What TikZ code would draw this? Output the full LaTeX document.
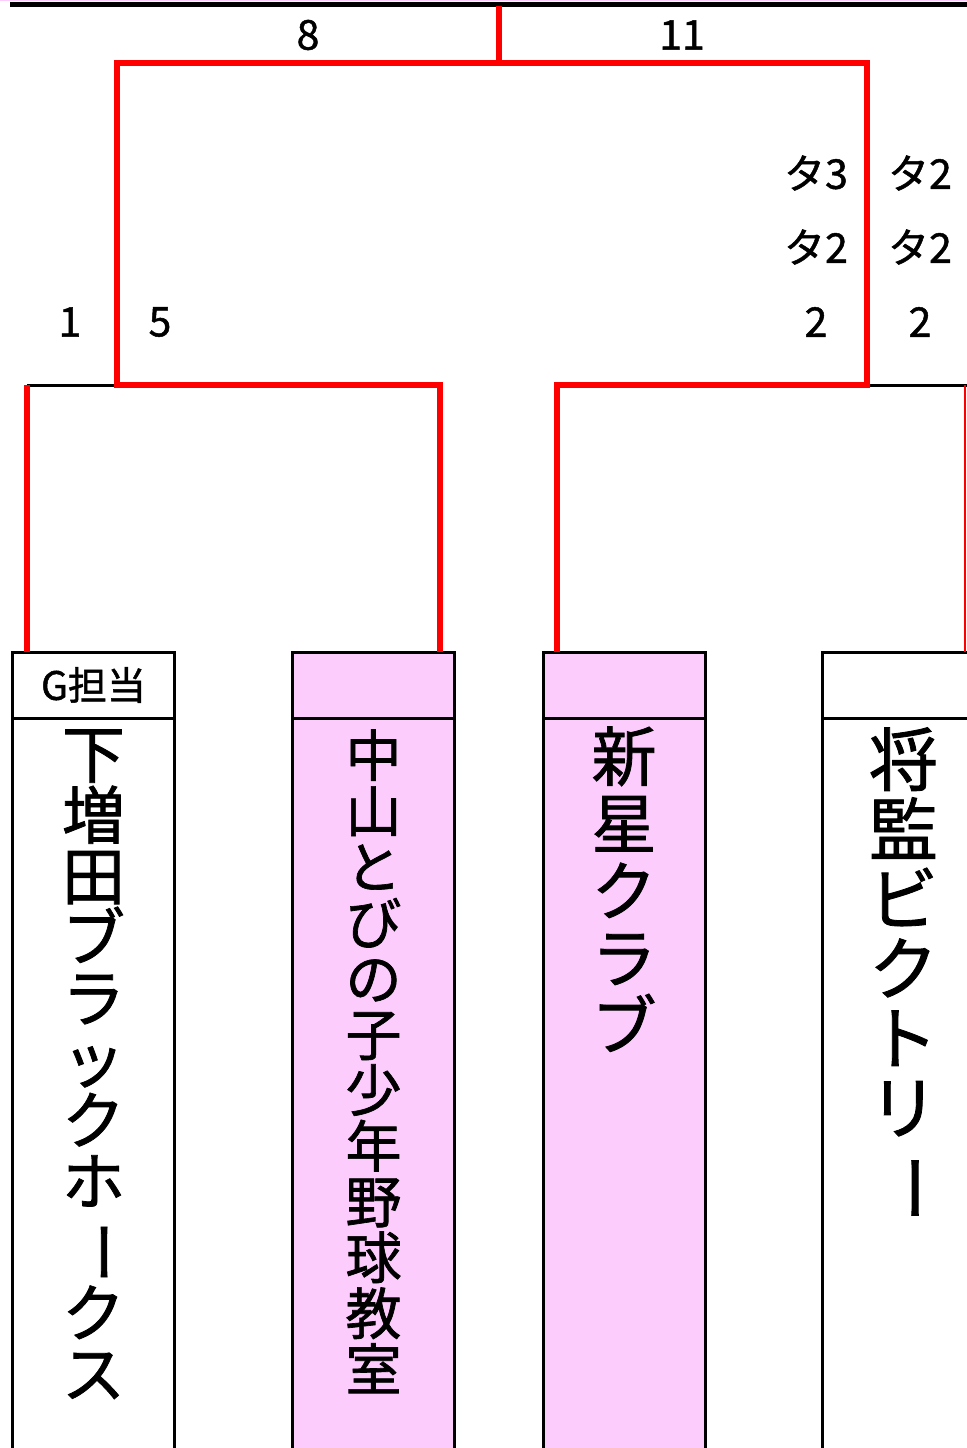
\documentclass[tikz,border=0pt]{standalone}
\usepackage{fontspec}
\usepackage{graphicx}
\setmainfont{Noto Sans CJK JP}[FakeBold=1.2]
\definecolor{winred}{RGB}{255,0,0}
\definecolor{teampink}{RGB}{252,204,252}
\newcommand{\chouon}{\rotatebox[origin=c]{-90}{ー}}

\begin{document}
\begin{tikzpicture}[x=0.5pt,y=-0.5pt,
        win/.style={winred,line width=3.2pt,line join=miter},
        lose/.style={black,line width=1.5pt},
        score/.style={font=\fontsize{20.5}{20.5}\selectfont},
        teamhead/.style={draw,line width=1.5pt,outer sep=0pt,minimum width=81pt,minimum height=33pt,inner sep=0pt,anchor=north,font=\fontsize{19.5}{19.5}\selectfont},
        teambody/.style={draw,line width=1.5pt,outer sep=0pt,minimum width=81pt,minimum height=390pt,anchor=north},
        teamname/.style={anchor=north,align=center,inner sep=0pt}]
        \useasboundingbox (0,0) rectangle (967,1448);
        \fill[white] (0,0) rectangle (967,1448);

        % team boxes
        \path (93.5,652) node[teamhead](h1){G担当};
        \path (373.5,652) node[teamhead,fill=teampink](h2){};
        \path (624,652) node[teamhead,fill=teampink](h3){};
        \path (903.5,652) node[teamhead](h4){};
        \path (h1.south) node[teambody](b1){};
        \path (h2.south) node[teambody,fill=teampink](b2){};
        \path (h3.south) node[teambody,fill=teampink](b3){};
        \path (h4.south) node[teambody](b4){};

        \path (93.5,729) node[teamname,font=\fontsize{31.5}{30.5}\selectfont](n1){下\\増\\田\\ブ\\ラ\\ッ\\ク\\ホ\\\chouon\\ク\\ス};
        \path (373.5,729) node[teamname,font=\fontsize{28}{27.9}\selectfont](n2){中\\山\\と\\び\\の\\子\\少\\年\\野\\球\\教\\室};
        \path (624,726) node[teamname,font=\fontsize{32.5}{33.6}\selectfont](n3){新\\星\\ク\\ラ\\ブ};
        \path (903.5,727) node[teamname,font=\fontsize{34.5}{34.8}\selectfont](n4){将\\監\\ビ\\ク\\ト\\リ\\\chouon};

        % bracket points
        \coordinate (topL) at (10,4.5);
        \coordinate (topR) at (975,4.5);
        \coordinate (final) at (499,6);
        \coordinate (sfM) at (499,63);
        \coordinate (sfL) at (117,63);
        \coordinate (sfR) at (867,63);
        \coordinate (qL) at (117,385);
        \coordinate (qR) at (867,385);
        \coordinate (c1) at (27,385);
        \coordinate (c2) at (440,385);
        \coordinate (c3) at (557,385);
        \coordinate (c4) at (965,385);
        \coordinate (t1) at (27,652);
        \coordinate (t2) at (440,652);
        \coordinate (t3) at (557,652);
        \coordinate (t4) at (965,652);

        \draw[teampink,line width=0.8pt] (0,0.5) -- (967,0.5);
        \draw[black,line width=2.6pt] (topL) -- (topR);
        \draw[lose] (c1) -- (qL);
        \draw[lose] (qR) -- (c4) -- (975,385);
        \draw[win] (final) -- (sfM);
        \draw[win] (t2) -- (c2) -- (qL) -- (sfL) -- (sfR) -- (qR) -- (c3) -- (t3);
        \draw[win] (c1) -- (t1);
        \draw[winred,line width=0.8pt] (c4) -- (t4);

        % scores
        \path (308,35) node[score](s8){8};
        \path (682,35) node[score](s11){11};
        \path (70,322) node[score](s1){1};
        \path (160,322) node[score](s5){5};
        \path (816,173) node[score](r1a){タ3};
        \path (920,173) node[score](r1b){タ2};
        \path (816,247) node[score](r2a){タ2};
        \path (920,247) node[score](r2b){タ2};
        \path (816,322) node[score](r3a){2};
        \path (920,322) node[score](r3b){2};


    \end{tikzpicture}
\end{document}
